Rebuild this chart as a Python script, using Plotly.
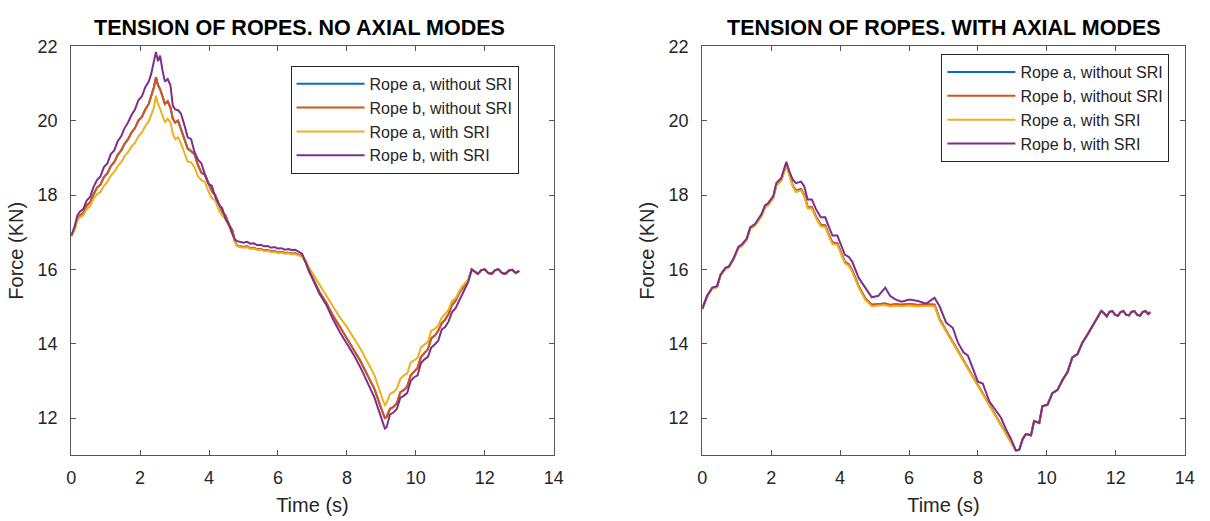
import plotly.graph_objects as go

# ---------------- DATA ----------------
SERIES_NAMES = ["Rope a, without SRI", "Rope b, without SRI", "Rope a, with SRI", "Rope b, with SRI"]
TITLE_LEFT = "TENSION OF ROPES. NO AXIAL MODES"
TITLE_RIGHT = "TENSION OF ROPES. WITH AXIAL MODES"
X_TICKS = [0, 2, 4, 6, 8, 10, 12, 14]
Y_TICKS = [12, 14, 16, 18, 20, 22]

# Left panel (no axial modes): time grid
L_t = [0.00, 0.10, 0.18, 0.25, 0.35, 0.45, 0.55, 0.65, 0.75, 0.85,
       0.95, 1.05, 1.15, 1.25, 1.35, 1.45, 1.55, 1.65, 1.75, 1.85,
       1.95, 2.05, 2.15, 2.25, 2.32, 2.40, 2.46, 2.52, 2.58, 2.65,
       2.72, 2.80, 2.88, 2.95, 3.02, 3.10, 3.18, 3.28, 3.38, 3.48,
       3.58, 3.68, 3.78, 3.88, 3.98, 4.08, 4.18, 4.28, 4.38, 4.48,
       4.58, 4.68, 4.75, 4.82, 4.90, 5.00, 5.10, 5.20, 5.30, 5.40,
       5.50, 5.60, 5.70, 5.80, 5.90, 6.00, 6.10, 6.20, 6.30, 6.40,
       6.50, 6.60, 6.70, 6.80, 6.90, 7.00, 7.20, 7.40, 7.60, 7.80,
       8.00, 8.20, 8.40, 8.60, 8.80, 9.00, 9.10, 9.15, 9.25, 9.35,
       9.45, 9.55, 9.65, 9.75, 9.85, 9.95, 10.05, 10.15, 10.25, 10.35,
       10.45, 10.55, 10.65, 10.75, 10.85, 10.95, 11.05, 11.15, 11.25, 11.35,
       11.45, 11.52, 11.62, 11.70, 11.80, 11.90, 12.00, 12.10, 12.20, 12.30,
       12.40, 12.50, 12.60, 12.70, 12.80, 12.90, 13.00]

L_b_nosri = [16.90, 17.10, 17.38, 17.45, 17.52, 17.72, 17.80, 18.02, 18.20, 18.28,
             18.48, 18.58, 18.78, 18.88, 19.08, 19.20, 19.38, 19.50, 19.68, 19.80,
             20.00, 20.10, 20.30, 20.45, 20.65, 20.90, 21.17, 20.95, 20.85, 20.65,
             20.45, 20.52, 20.35, 20.05, 19.95, 20.00, 19.80, 19.55, 19.25, 19.18,
             19.10, 18.80, 18.60, 18.55, 18.30, 18.10, 18.00, 17.75, 17.55, 17.45,
             17.20, 17.05, 16.75, 16.63, 16.62, 16.60, 16.62, 16.57, 16.58, 16.54,
             16.55, 16.51, 16.52, 16.48, 16.49, 16.46, 16.47, 16.44, 16.45, 16.42,
             16.43, 16.40, 16.36, 16.20, 15.95, 15.78, 15.40, 15.10, 14.75, 14.45,
             14.15, 13.85, 13.52, 13.15, 12.78, 12.25, 12.00, 12.03, 12.25, 12.30,
             12.40, 12.70, 12.75, 12.85, 13.15, 13.25, 13.35, 13.65, 13.75, 13.85,
             14.15, 14.22, 14.35, 14.55, 14.65, 14.80, 15.05, 15.15, 15.35, 15.50,
             15.62, 15.70, 16.00, 15.95, 15.88, 15.98, 16.00, 15.90, 15.88, 15.98,
             16.00, 15.90, 15.88, 15.97, 15.99, 15.90, 15.96]
L_a_nosri = list(L_b_nosri)  # identical curve, hidden beneath rope b

L_a_sri = [16.90, 17.05, 17.30, 17.40, 17.45, 17.62, 17.70, 17.90, 18.02, 18.08,
           18.25, 18.35, 18.52, 18.62, 18.78, 18.88, 19.05, 19.15, 19.30, 19.40,
           19.58, 19.68, 19.85, 19.98, 20.15, 20.35, 20.67, 20.45, 20.32, 20.12,
           19.95, 20.05, 19.95, 19.65, 19.50, 19.55, 19.40, 19.15, 18.90, 18.88,
           18.75, 18.50, 18.40, 18.35, 18.10, 17.92, 17.85, 17.60, 17.45, 17.35,
           17.15, 16.95, 16.72, 16.62, 16.60, 16.58, 16.60, 16.55, 16.56, 16.52,
           16.53, 16.49, 16.50, 16.46, 16.47, 16.44, 16.45, 16.42, 16.43, 16.40,
           16.41, 16.38, 16.34, 16.25, 16.05, 15.90, 15.60, 15.30, 15.00, 14.70,
           14.45, 14.15, 13.85, 13.50, 13.15, 12.60, 12.35, 12.40, 12.65, 12.70,
           12.80, 13.05, 13.15, 13.20, 13.50, 13.55, 13.62, 13.90, 13.98, 14.05,
           14.35, 14.40, 14.50, 14.70, 14.80, 14.92, 15.15, 15.22, 15.40, 15.55,
           15.65, 15.72, 16.00, 15.95, 15.88, 15.98, 16.00, 15.90, 15.88, 15.98,
           16.00, 15.90, 15.88, 15.97, 15.99, 15.90, 15.96]

L_b_sri = [16.90, 17.15, 17.45, 17.55, 17.62, 17.85, 17.95, 18.22, 18.40, 18.50,
           18.75, 18.85, 19.10, 19.20, 19.45, 19.58, 19.80, 19.95, 20.15, 20.30,
           20.55, 20.65, 20.90, 21.05, 21.25, 21.55, 21.85, 21.60, 21.75, 21.35,
           21.05, 21.12, 20.95, 20.40, 20.30, 20.28, 20.20, 19.90, 19.55, 19.50,
           19.15, 18.95, 18.85, 18.55, 18.30, 18.25, 17.95, 17.75, 17.65, 17.35,
           17.20, 16.95, 16.80, 16.76, 16.74, 16.72, 16.74, 16.69, 16.70, 16.65,
           16.66, 16.62, 16.63, 16.58, 16.60, 16.56, 16.57, 16.53, 16.55, 16.52,
           16.53, 16.48, 16.42, 16.20, 15.95, 15.75, 15.35, 15.05, 14.65, 14.30,
           14.00, 13.70, 13.35, 12.95, 12.55, 12.00, 11.72, 11.75, 12.10, 12.15,
           12.25, 12.55, 12.60, 12.68, 13.00, 13.10, 13.15, 13.48, 13.58, 13.65,
           13.90, 13.98, 14.08, 14.38, 14.45, 14.60, 14.85, 14.95, 15.15, 15.35,
           15.52, 15.66, 16.00, 15.95, 15.88, 15.98, 16.00, 15.90, 15.88, 15.98,
           16.00, 15.90, 15.88, 15.97, 15.99, 15.90, 15.96]

# Right panel (with axial modes): time grid
R_t = [0.00, 0.14, 0.29, 0.43, 0.53, 0.67, 0.77, 0.91, 1.05, 1.15,
       1.29, 1.39, 1.53, 1.72, 1.82, 1.91, 2.06, 2.15, 2.29, 2.44,
       2.53, 2.63, 2.72, 2.87, 2.96, 3.06, 3.18, 3.30, 3.44, 3.57,
       3.68, 3.78, 3.92, 4.02, 4.14, 4.25, 4.35, 4.54, 4.73, 4.92,
       5.11, 5.31, 5.45, 5.59, 5.78, 6.02, 6.26, 6.50, 6.74, 6.89,
       7.08, 7.27, 7.42, 7.58, 7.71, 7.85, 8.00, 8.14, 8.33, 8.53,
       8.67, 8.81, 8.96, 9.10, 9.20, 9.30, 9.39, 9.54, 9.63, 9.78,
       9.87, 10.02, 10.16, 10.31, 10.45, 10.60, 10.74, 10.89, 11.03, 11.18,
       11.32, 11.42, 11.50, 11.58, 11.66, 11.74, 11.82, 11.90, 11.98, 12.06,
       12.14, 12.22, 12.30, 12.38, 12.46, 12.54, 12.62, 12.70, 12.78, 12.86,
       12.94, 13.00]

R_b_nosri = [14.94, 15.27, 15.49, 15.53, 15.84, 16.02, 16.06, 16.28, 16.58, 16.64,
             16.80, 17.10, 17.19, 17.45, 17.68, 17.74, 17.93, 18.27, 18.40, 18.82,
             18.55, 18.25, 18.12, 18.16, 18.00, 17.68, 17.68, 17.42, 17.20, 17.18,
             16.92, 16.72, 16.70, 16.45, 16.20, 16.14, 15.98, 15.55, 15.22, 15.05,
             15.06, 15.08, 15.04, 15.06, 15.05, 15.07, 15.04, 15.06, 15.05, 14.66,
             14.35, 14.05, 13.82, 13.57, 13.36, 13.14, 12.90, 12.67, 12.36, 12.04,
             11.82, 11.60, 11.36, 11.13, 11.15, 11.44, 11.57, 11.54, 11.92, 11.87,
             12.32, 12.36, 12.67, 12.76, 13.02, 13.24, 13.63, 13.72, 14.03, 14.25,
             14.47, 14.60, 14.75, 14.88, 14.82, 14.74, 14.86, 14.88, 14.78, 14.75,
             14.85, 14.88, 14.78, 14.76, 14.86, 14.88, 14.78, 14.75, 14.85, 14.88,
             14.80, 14.85]
R_a_nosri = list(R_b_nosri)  # identical curve, hidden beneath rope b

R_a_sri = [14.94, 15.26, 15.48, 15.52, 15.83, 16.01, 16.05, 16.27, 16.57, 16.63,
           16.79, 17.08, 17.17, 17.43, 17.66, 17.72, 17.91, 18.25, 18.38, 18.80,
           18.52, 18.22, 18.08, 18.12, 17.96, 17.64, 17.64, 17.38, 17.16, 17.14,
           16.88, 16.68, 16.66, 16.41, 16.16, 16.10, 15.94, 15.51, 15.18, 15.01,
           15.02, 15.04, 15.00, 15.02, 15.01, 15.03, 15.00, 15.02, 15.01, 14.62,
           14.32, 14.02, 13.79, 13.54, 13.33, 13.11, 12.87, 12.64, 12.33, 12.01,
           11.80, 11.58, 11.34, 11.12, 11.15, 11.44, 11.57, 11.54, 11.92, 11.87,
           12.32, 12.36, 12.67, 12.76, 13.02, 13.24, 13.63, 13.72, 14.03, 14.25,
           14.47, 14.60, 14.75, 14.88, 14.82, 14.74, 14.86, 14.88, 14.78, 14.75,
           14.85, 14.88, 14.78, 14.76, 14.86, 14.88, 14.78, 14.75, 14.85, 14.88,
           14.80, 14.85]

R_b_sri = [14.94, 15.29, 15.51, 15.55, 15.86, 16.04, 16.08, 16.30, 16.61, 16.67,
           16.83, 17.13, 17.22, 17.49, 17.72, 17.78, 17.97, 18.32, 18.45, 18.89,
           18.63, 18.41, 18.32, 18.36, 18.23, 17.88, 17.88, 17.62, 17.40, 17.40,
           17.13, 16.91, 16.91, 16.65, 16.39, 16.34, 16.21, 15.77, 15.51, 15.25,
           15.29, 15.51, 15.29, 15.20, 15.13, 15.19, 15.15, 15.08, 15.24, 15.00,
           14.56, 14.43, 14.03, 13.77, 13.68, 13.33, 12.98, 12.93, 12.45, 12.19,
           12.01, 11.71, 11.44, 11.13, 11.15, 11.44, 11.57, 11.54, 11.92, 11.87,
           12.32, 12.36, 12.67, 12.76, 13.02, 13.24, 13.63, 13.72, 14.03, 14.25,
           14.47, 14.60, 14.75, 14.88, 14.82, 14.74, 14.86, 14.88, 14.78, 14.75,
           14.85, 14.88, 14.78, 14.76, 14.86, 14.88, 14.78, 14.75, 14.85, 14.88,
           14.80, 14.85]

COLORS = ["#0072BD", "#D95319", "#EDB120", "#7E2F8E"]

# ---------------- FIGURE ----------------
FONT = "Liberation Sans, Arial, sans-serif"
TXT = "#262626"
AX = "#555555"
fig = go.Figure()

left_series = [L_a_nosri, L_b_nosri, L_a_sri, L_b_sri]
right_series = [R_a_nosri, R_b_nosri, R_a_sri, R_b_sri]

for name, ys, c in zip(SERIES_NAMES, left_series, COLORS):
    fig.add_trace(go.Scatter(x=L_t, y=ys, mode="lines", name=name,
                             line=dict(color=c, width=2), xaxis="x", yaxis="y",
                             legend="legend"))
for name, ys, c in zip(SERIES_NAMES, right_series, COLORS):
    fig.add_trace(go.Scatter(x=R_t, y=ys, mode="lines", name=name,
                             line=dict(color=c, width=2), xaxis="x2", yaxis="y2",
                             legend="legend2"))

W, H = 1210, 521
ytop, ybot = 37, 454
ydom = [1 - ybot / H, 1 - ytop / H]

axis_common = dict(showline=True, linecolor=AX, linewidth=1, mirror="ticks",
                   ticks="inside", ticklen=5, tickcolor=AX, showgrid=False,
                   zeroline=False, tickfont=dict(size=18, color=TXT, family=FONT))

xcommon = dict(axis_common, range=[0, 14], tickvals=X_TICKS, ticklabelstandoff=6,
               title=dict(text="Time (s)", font=dict(size=20, color=TXT, family=FONT), standoff=11))
ycommon = dict(axis_common, range=[11, 22], tickvals=Y_TICKS, ticklabelstandoff=9,
               title=dict(text="Force (KN)", font=dict(size=20, color=TXT, family=FONT), standoff=8))

legend_common = dict(bgcolor="white", bordercolor="#262626", borderwidth=1,
                     font=dict(size=16, color=TXT, family=FONT), itemwidth=68,
                     xanchor="right", yanchor="top", tracegroupgap=0, itemclick=False)

fig.update_layout(
    width=W, height=H,
    margin=dict(l=0, r=0, t=0, b=0),
    paper_bgcolor="white", plot_bgcolor="white",
    font=dict(family=FONT, color=TXT),
    xaxis=dict(xcommon, domain=[67 / W, 555.6 / W], anchor="y"),
    yaxis=dict(ycommon, domain=ydom, anchor="x"),
    xaxis2=dict(xcommon, domain=[706 / W, 1194.5 / W], anchor="y2"),
    yaxis2=dict(ycommon, domain=ydom, anchor="x2"),
    legend=dict(legend_common, x=520 / W, y=1 - 57 / H),
    legend2=dict(legend_common, x=1179 / W, y=1 - 45 / H),
    annotations=[
        dict(text="<b>" + TITLE_LEFT + "</b>", x=298 / W, y=1 - 18 / H, xref="paper", yref="paper",
             xanchor="center", yanchor="middle", showarrow=False,
             font=dict(size=21.5, color="black", family=FONT)),
        dict(text="<b>" + TITLE_RIGHT + "</b>", x=951 / W, y=1 - 18 / H, xref="paper", yref="paper",
             xanchor="center", yanchor="middle", showarrow=False,
             font=dict(size=21.5, color="black", family=FONT)),
    ],
)

fig.write_html("out.html")
